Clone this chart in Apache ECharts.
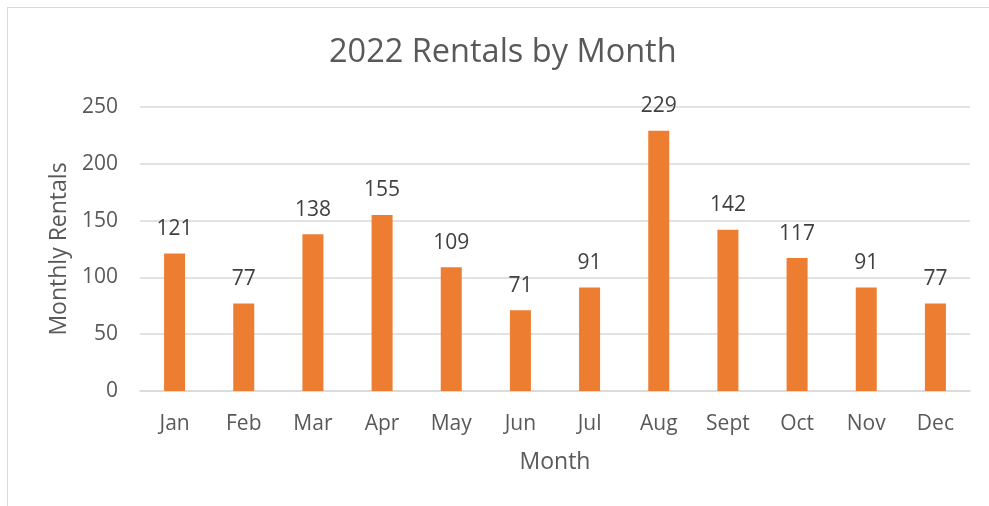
<!DOCTYPE html>
<html style="height: 100%">
<head>
    <title>2022 Rentals by Month</title>
    <meta charset="utf-8">
</head>
<body style="height: 100%; margin: 0; overflow: hidden; background: #fff">
<div id="frame" style="position:absolute; left:7px; top:7px; width:1100px; height:600px; border:1.5px solid #d9d9d9; box-sizing:border-box"></div>
<div id="container" style="position:absolute; left:0; top:0; width:989px; height:506px"></div>
<script src="https://cdn.jsdelivr.net/npm/echarts@6/dist/echarts.min.js"></script>
<script type="text/javascript">
    // data
    var months = ['Jan', 'Feb', 'Mar', 'Apr', 'May', 'Jun', 'Jul', 'Aug', 'Sept', 'Oct', 'Nov', 'Dec'];
    var rentals = [121, 77, 138, 155, 109, 71, 91, 229, 142, 117, 91, 77];
    var yTicks = [0, 50, 100, 150, 200, 250];

    var font = 'Open Sans';
    var myChart = echarts.init(document.getElementById('container'));
    myChart.setOption({
        animation: false,
        title: {
            text: '2022 Rentals by Month',
            left: 329,
            top: 36,
            padding: 0,
            textStyle: {fontFamily: font, fontSize: 32.5, fontWeight: 'normal', color: '#595959'}
        },
        grid: {left: 140, right: 19, top: 107, bottom: 115},
        xAxis: {
            type: 'category',
            data: months,
            name: 'Month',
            nameLocation: 'middle',
            nameGap: 60,
            nameTextStyle: {fontFamily: font, fontSize: 23, color: '#595959'},
            axisLine: {lineStyle: {color: '#d9d9d9', width: 1.5}},
            axisTick: {show: false},
            axisLabel: {fontFamily: font, fontSize: 21, color: '#595959', margin: 23}
        },
        yAxis: {
            type: 'value',
            min: yTicks[0],
            max: yTicks[yTicks.length - 1],
            interval: 50,
            name: 'Monthly Rentals',
            nameLocation: 'middle',
            nameGap: 68,
            nameTextStyle: {fontFamily: font, fontSize: 23, color: '#595959'},
            axisLine: {show: false},
            axisTick: {show: false},
            axisLabel: {fontFamily: font, fontSize: 21, color: '#595959', margin: 22},
            splitLine: {lineStyle: {color: '#d9d9d9', width: 1.5}}
        },
        series: [{
            type: 'bar',
            data: rentals,
            barWidth: 21,
            itemStyle: {color: '#ED7D31'},
            label: {
                show: true,
                position: 'top',
                distance: 14,
                fontFamily: font,
                fontSize: 21,
                color: '#404040'
            }
        }]
    });
</script>
</body>
</html>
